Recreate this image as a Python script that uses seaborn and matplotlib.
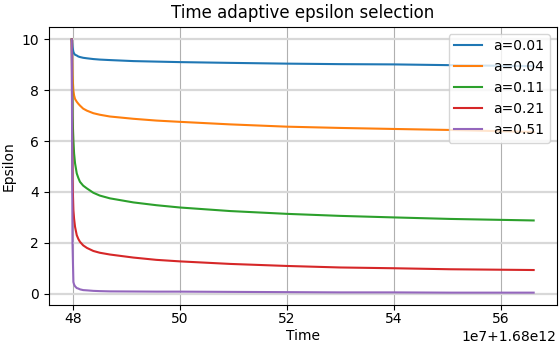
import numpy as np
import pandas as pd
import matplotlib
matplotlib.use("Agg")
import matplotlib.pyplot as plt
import seaborn as sns

time_base = 1.68e12
time_scale = 1e7
time_rel = [47.976, 47.99, 48.007, 48.02, 48.038, 48.07, 48.10, 48.13, 48.19, 48.26, 48.38,
            48.50, 48.69, 49.13, 49.56, 50.0, 50.94, 52.0, 53.0, 54.0, 55.06, 56.62]

labels = ["a=0.01", "a=0.04", "a=0.11", "a=0.21", "a=0.51"]
eps_001 = [10, 9.70, 9.51, 9.45, 9.40, 9.37, 9.33, 9.31, 9.28, 9.26, 9.23, 9.21, 9.19, 9.15, 9.13, 9.11, 9.08, 9.05, 9.03, 9.02, 8.99, 8.95]
eps_004 = [10, 8.60, 7.99, 7.80, 7.66, 7.55, 7.47, 7.40, 7.28, 7.20, 7.10, 7.04, 6.97, 6.88, 6.81, 6.76, 6.66, 6.57, 6.52, 6.48, 6.44, 6.36]
eps_011 = [10, 7.00, 6.05, 5.52, 5.13, 4.73, 4.55, 4.40, 4.25, 4.14, 3.97, 3.86, 3.75, 3.59, 3.48, 3.39, 3.25, 3.14, 3.06, 3.00, 2.94, 2.88]
eps_021 = [10, 4.50, 3.29, 2.95, 2.63, 2.30, 2.15, 2.04, 1.90, 1.80, 1.68, 1.61, 1.54, 1.42, 1.33, 1.27, 1.17, 1.09, 1.03, 1.00, 0.96, 0.93]
eps_051 = [10, 2.00, 0.46, 0.36, 0.29, 0.22, 0.20, 0.17, 0.14, 0.13, 0.11, 0.10, 0.09, 0.085, 0.08, 0.08, 0.07, 0.06, 0.05, 0.05, 0.04, 0.04]
series = [eps_001, eps_004, eps_011, eps_021, eps_051]
colors = ["#1f77b4", "#ff7f0e", "#2ca02c", "#d62728", "#9467bd"]

plt.rcParams["font.family"] = ["DejaVu Sans"]

fig, ax = plt.subplots(figsize=(5.59, 3.44), dpi=100)
fig.subplots_adjust(left=0.087, right=0.996, top=0.922, bottom=0.1125)

t = time_base + np.array(time_rel) * time_scale
for lab, vals, c in zip(labels, series, colors):
    df = pd.DataFrame({"Time": t, "Epsilon": vals})
    sns.lineplot(data=df, x="Time", y="Epsilon", ax=ax, color=c, label=lab, lw=1.5, sort=False)

ax.set_title("Time adaptive epsilon selection", fontsize=12)
ax.set_xlabel("Time", labelpad=2)
ax.set_ylabel("Epsilon")
ax.tick_params(axis="x", pad=1.5)
ax.xaxis.grid(True, color="#b0b0b0", lw=0.8)
ax.yaxis.grid(True, color="#d8d8d8", lw=1.6)
ax.set_axisbelow(True)
ax.legend(loc="upper right", fontsize=10)

fig.savefig("out.png", dpi=100)
